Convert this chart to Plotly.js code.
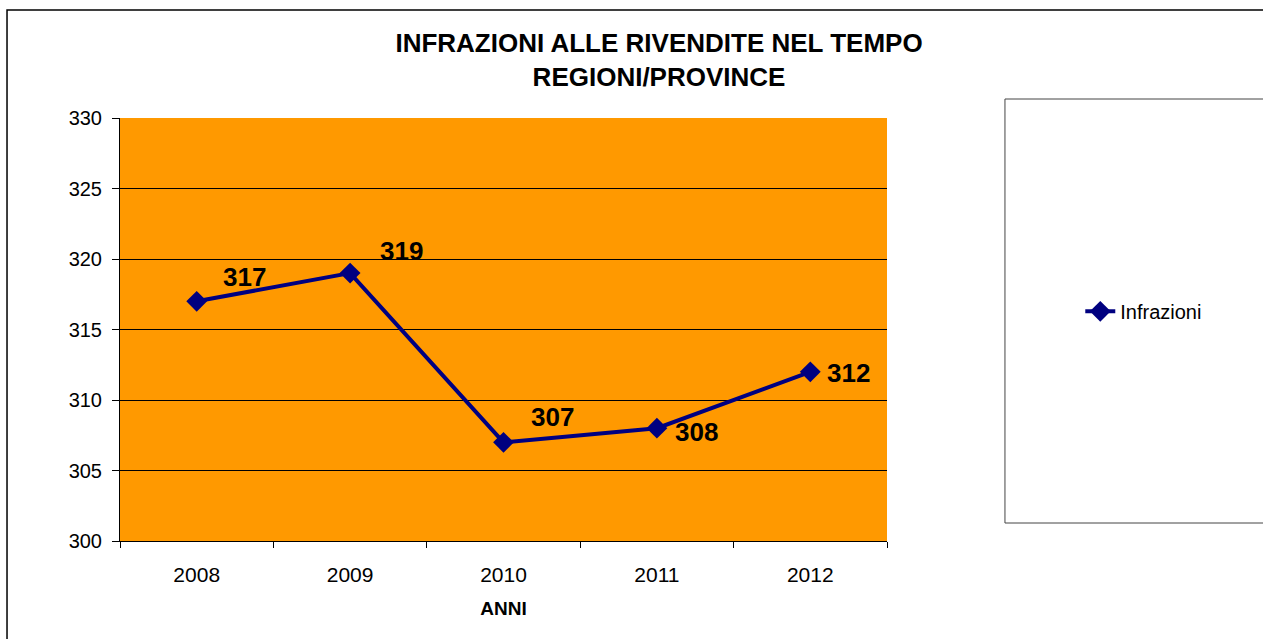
<!DOCTYPE html>
<html>
<head>
<meta charset="utf-8">
<script src="https://cdn.plot.ly/plotly-3.0.1.min.js"></script>
<style>
html,body{margin:0;padding:0;background:#fff;}
#chart{width:1263px;height:639px;}
</style>
</head>
<body>
<div id="chart"></div>
<script>
// Data
const years = ['2008', '2009', '2010', '2011', '2012'];
const infrazioni = [317, 319, 307, 308, 312];
const seriesName = 'Infrazioni';
const chartTitle = 'INFRAZIONI ALLE RIVENDITE NEL TEMPO<br>REGIONI/PROVINCE';
const xTitle = 'ANNI';

// Label placement (pixels), styling only
const labelShift = [[48, 24], [51, 22], [49, 25], [40, -4], [38, -1]];

const FONT = '"Liberation Sans", Arial, sans-serif';
const NAVY = '#000080';

const trace = {
  x: years,
  y: infrazioni,
  type: 'scatter',
  mode: 'lines+markers',
  name: seriesName,
  line: {color: NAVY, width: 4},
  marker: {symbol: 'diamond', size: 16, color: NAVY},
  cliponaxis: false,
  hoverinfo: 'x+y'
};

// category index positions so numeric-looking category names are not misread
const annotations = years.map((yr, i) => ({
  x: i, y: infrazioni[i], xref: 'x', yref: 'y',
  text: String(infrazioni[i]),
  showarrow: false,
  xanchor: 'center', yanchor: 'middle',
  xshift: labelShift[i][0], yshift: labelShift[i][1],
  font: {family: FONT, size: 26, color: '#000', weight: 'bold'}
}));

const layout = {
  width: 1263, height: 639,
  paper_bgcolor: '#ffffff',
  plot_bgcolor: '#FF9900',
  margin: {l: 120, r: 376, t: 118, b: 98, pad: 0},
  font: {family: FONT, color: '#000', size: 20},
  title: {
    text: chartTitle,
    font: {family: FONT, size: 26, color: '#000', weight: 'bold'},
    xref: 'container', x: 0.5218, xanchor: 'center',
    yref: 'container', y: 0.918, yanchor: 'top'
  },
  xaxis: {
    type: 'category',
    range: [-0.5, 4.5],
    tickson: 'boundaries',
    ticks: 'outside', ticklen: 6, tickcolor: '#000', tickwidth: 1,
    showline: true, linecolor: '#000', linewidth: 1,
    showgrid: false, zeroline: false,
    tickfont: {family: FONT, size: 21, color: '#000'},
    ticklabelstandoff: 15,
    title: {text: xTitle, font: {family: FONT, size: 19, color: '#000', weight: 'bold'}, standoff: 16},
    fixedrange: true
  },
  yaxis: {
    range: [300, 330],
    dtick: 5, tick0: 300,
    ticks: 'outside', ticklen: 7, tickcolor: '#000', tickwidth: 1,
    showline: true, linecolor: '#000', linewidth: 1,
    showgrid: true, gridcolor: '#000', gridwidth: 1,
    zeroline: false,
    tickfont: {family: FONT, size: 20, color: '#000'},
    ticklabelstandoff: 6,
    fixedrange: true
  },
  showlegend: true,
  legend: {
    x: 1.252, xanchor: 'left', xref: 'paper',
    y: 0.543, yanchor: 'middle', yref: 'paper',
    bgcolor: 'rgba(0,0,0,0)', borderwidth: 0,
    font: {family: FONT, size: 20, color: '#000'}
  },
  annotations: annotations,
  shapes: [
    // outer chart border
    {type: 'rect', xref: 'paper', yref: 'paper', x0: -0.1473, x1: 1.7, y0: -0.4, y1: 1.2553,
     line: {color: '#000', width: 1.5}, fillcolor: 'rgba(0,0,0,0)', layer: 'below'},
    // legend box
    {type: 'rect', xref: 'paper', yref: 'paper', x0: 1.1538, x1: 1.7, y0: 0.04255, y1: 1.0449,
     line: {color: '#444', width: 1}, fillcolor: 'rgba(0,0,0,0)', layer: 'below'}
  ]
};

Plotly.newPlot('chart', [trace], layout, {displayModeBar: false, staticPlot: true});
</script>
</body>
</html>
